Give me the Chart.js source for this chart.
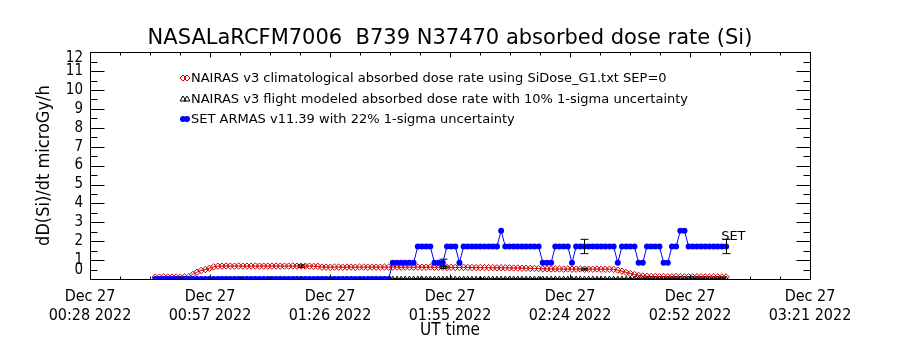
<!DOCTYPE html>
<html>
<head>
<meta charset="utf-8">
<title>NASALaRCFM7006 absorbed dose rate</title>
<script src="https://cdn.jsdelivr.net/npm/chart.js@4.4.0/dist/chart.umd.min.js"></script>
<style>
  html, body { margin: 0; padding: 0; background: #fff; }
  #wrap { width: 900px; height: 350px; }
</style>
</head>
<body>
<div id="wrap"><canvas id="doseChart" width="900" height="350"></canvas></div>
<script>
// minutes after 00:00 UT on Dec 27 2022, one sample per minute from here
const startMinute = 44;

// NAIRAS v3 climatological absorbed dose rate (microGy/h)
const nairasClim = [
  0.10, 0.10, 0.11, 0.10, 0.10, 0.11, 0.10, 0.11, 0.12,
  0.24, 0.36, 0.45, 0.50, 0.57, 0.64, 0.68,
  0.68, 0.69, 0.68, 0.68, 0.69, 0.68, 0.68, 0.68, 0.69, 0.68, 0.68, 0.68,
  0.68, 0.69, 0.68, 0.68, 0.68, 0.69, 0.68, 0.68, 0.68, 0.68, 0.67, 0.67,
  0.63, 0.63, 0.62, 0.63, 0.63, 0.62, 0.63, 0.63, 0.62, 0.63, 0.63, 0.62,
  0.63, 0.63, 0.62, 0.63, 0.63,
  0.63, 0.63, 0.62, 0.63, 0.63, 0.62, 0.63, 0.62, 0.62, 0.63, 0.62, 0.62,
  0.62, 0.61, 0.62, 0.61, 0.61, 0.62, 0.61, 0.61, 0.60, 0.61, 0.60, 0.60,
  0.60, 0.59, 0.60, 0.59, 0.59, 0.58, 0.58, 0.57, 0.57, 0.56, 0.56,
  0.55, 0.54, 0.54, 0.53, 0.53, 0.53, 0.52, 0.53, 0.52, 0.52, 0.53, 0.52,
  0.52, 0.52, 0.53, 0.52, 0.52, 0.52, 0.51,
  0.47, 0.41, 0.35, 0.29, 0.24, 0.19, 0.16, 0.14,
  0.13, 0.13, 0.12, 0.13, 0.12, 0.12, 0.13, 0.12, 0.12, 0.12, 0.11, 0.12,
  0.12, 0.11, 0.11, 0.12, 0.11, 0.11, 0.11
];

// NAIRAS v3 flight modeled absorbed dose rate (microGy/h)
const nairasFlight = [
  0.02, 0.02, 0.02, 0.02, 0.02, 0.02, 0.02, 0.02, 0.02, 0.02, 0.02, 0.02,
  0.02, 0.02, 0.02, 0.02, 0.02, 0.02, 0.02, 0.02, 0.02, 0.02, 0.02, 0.02,
  0.02, 0.02, 0.02, 0.02, 0.02, 0.02, 0.02, 0.02, 0.02, 0.02, 0.02, 0.02,
  0.02, 0.02, 0.02, 0.02, 0.02, 0.02, 0.02, 0.02, 0.02, 0.02, 0.02, 0.02,
  0.02, 0.02, 0.02, 0.02, 0.02, 0.02, 0.02, 0.02, 0.02, 0.02, 0.02, 0.02,
  0.02, 0.02, 0.02, 0.02, 0.02, 0.02, 0.02, 0.02, 0.02, 0.02, 0.02, 0.02,
  0.02, 0.02, 0.02, 0.02, 0.02, 0.02, 0.02, 0.02, 0.02, 0.02, 0.02, 0.02,
  0.02, 0.02, 0.02, 0.02, 0.02, 0.02, 0.02, 0.02, 0.02, 0.02, 0.02, 0.02,
  0.02, 0.02, 0.02, 0.02, 0.02, 0.02, 0.02, 0.02, 0.02, 0.02, 0.02, 0.02,
  0.02, 0.02, 0.02, 0.02, 0.02, 0.02, 0.02, 0.02, 0.02, 0.02, 0.02, 0.02,
  0.02, 0.02, 0.02, 0.02, 0.02, 0.02, 0.02, 0.02, 0.02, 0.02, 0.02, 0.02,
  0.02, 0.02, 0.02, 0.02, 0.02, 0.02
];

// SET ARMAS v11.39 measured dose rate (microGy/h)
const setArmas = [
  0, 0, 0, 0, 0, 0, 0, 0, 0, 0, 0, 0, 0, 0, 0, 0, 0, 0, 0, 0,
  0, 0, 0, 0, 0, 0, 0, 0, 0, 0, 0, 0, 0, 0, 0, 0, 0, 0, 0, 0,
  0, 0, 0, 0, 0, 0, 0, 0, 0, 0, 0, 0, 0, 0, 0, 0, 0,
  0.86, 0.86, 0.86, 0.86, 0.86, 0.86,
  1.72, 1.72, 1.72, 1.72,
  0.86, 0.86, 0.86,
  1.72, 1.72, 1.72,
  0.86,
  1.72, 1.72, 1.72, 1.72, 1.72, 1.72, 1.72, 1.72, 1.72,
  2.55,
  1.72, 1.72, 1.72, 1.72, 1.72, 1.72, 1.72, 1.72, 1.72,
  0.86, 0.86, 0.86,
  1.72, 1.72, 1.72, 1.72,
  0.86,
  1.72, 1.72, 1.72, 1.72, 1.72, 1.72, 1.72, 1.72, 1.72, 1.72,
  0.86,
  1.72, 1.72, 1.72, 1.72,
  0.86, 0.86,
  1.72, 1.72, 1.72, 1.72,
  0.86, 0.86,
  1.72, 1.72,
  2.55, 2.55,
  1.72, 1.72, 1.72, 1.72, 1.72, 1.72, 1.72, 1.72, 1.72, 1.72
];

const seriesLabels = [
  'NAIRAS v3 climatological absorbed dose rate using SiDose_G1.txt SEP=0',
  'NAIRAS v3 flight modeled absorbed dose rate with 10% 1-sigma uncertainty',
  'SET ARMAS v11.39 with 22% 1-sigma uncertainty'
];

// error bars: minute, relative 1-sigma
const setErrMinutes = [113, 147, 181];
const setSigma = 0.22;
const nairasErrMinutes = [79, 113, 147];
const nairasSigma = 0.10;

const xTickMinutes = [28.33, 57.13, 85.93, 114.73, 143.53, 172.33, 201.13];
const xTickLabels = [
  ['Dec 27', '00:28 2022'],
  ['Dec 27', '00:57 2022'],
  ['Dec 27', '01:26 2022'],
  ['Dec 27', '01:55 2022'],
  ['Dec 27', '02:24 2022'],
  ['Dec 27', '02:52 2022'],
  ['Dec 27', '03:21 2022']
];
const yMin = 0;
const yMax = 12;

const RED = '#cc0000';
const BLUE = '#0000ff';
const FONT = "'DejaVu Sans', sans-serif";
const COND = "'DejaVu Sans Condensed', 'DejaVu Sans', sans-serif";

function toPoints(values) {
  return values.map((v, i) => ({ x: startMinute + i, y: v }));
}

function valueAt(values, minute) {
  return values[minute - startMinute];
}

// IDL style box, inward ticks, y labels, legend, error bars
const idlFrame = {
  id: 'idlFrame',
  afterDatasetsDraw(chart) {
    const { ctx, chartArea: a, scales: { x, y } } = chart;
    ctx.save();
    ctx.strokeStyle = '#000';
    ctx.lineWidth = 1;

    function seg(x0, y0, x1, y1) {
      ctx.beginPath();
      ctx.moveTo(x0, y0);
      ctx.lineTo(x1, y1);
      ctx.stroke();
    }

    function errBar(minute, value, sigma) {
      const px = Math.round(x.getPixelForValue(minute)) + 0.5;
      const lo = y.getPixelForValue(value * (1 - sigma));
      const hi = y.getPixelForValue(value * (1 + sigma));
      seg(px, lo, px, hi);
      seg(px - 4, lo, px + 4, lo);
      seg(px - 4, hi, px + 4, hi);
    }

    nairasErrMinutes.forEach(m => errBar(m, valueAt(nairasClim, m), nairasSigma));
    setErrMinutes.forEach(m => errBar(m, valueAt(setArmas, m), setSigma));

    // frame
    const L = Math.round(a.left) + 0.5, R = Math.round(a.right) + 0.5;
    const T = Math.round(a.top) + 0.5, B = Math.round(a.bottom) + 0.5;
    ctx.strokeRect(L, T, R - L, B - T);

    // y ticks, both sides
    for (let v = yMin; v <= yMax; v += 0.5) {
      const py = Math.round(y.getPixelForValue(v)) + 0.5;
      const len = v % 1 === 0 ? 14 : 7;
      seg(L, py, L + len, py);
      seg(R, py, R - len, py);
    }

    // x ticks, both sides
    for (let i = 0; i < xTickMinutes.length; i++) {
      const px = Math.round(x.getPixelForValue(xTickMinutes[i])) + 0.5;
      seg(px, B, px, B - 5);
      seg(px, T, px, T + 5);
      if (i < xTickMinutes.length - 1) {
        const step = (xTickMinutes[i + 1] - xTickMinutes[i]) / 4;
        for (let k = 1; k < 4; k++) {
          const mx = Math.round(x.getPixelForValue(xTickMinutes[i] + k * step)) + 0.5;
          seg(mx, B, mx, B - 3);
          seg(mx, T, mx, T + 3);
        }
      }
    }

    // y tick labels (IDL nudges the end labels inside the box)
    ctx.fillStyle = '#000';
    ctx.font = '15px ' + COND;
    ctx.textAlign = 'right';
    ctx.textBaseline = 'middle';
    for (let v = yMin; v <= yMax; v++) {
      let py = y.getPixelForValue(v);
      if (v === yMax) py += 5.5;
      if (v === yMin) py -= 9;
      ctx.fillText(String(v), a.left - 7, py);
    }

    // legend
    const lx = 183, rows = [78, 99, 119];
    ctx.font = '13px ' + FONT;
    ctx.textAlign = 'left';
    rows.forEach((ry, i) => {
      for (let k = 0; k < 2; k++) {
        const sx = lx + k * 4;
        ctx.beginPath();
        if (i === 0) {
          ctx.strokeStyle = RED;
          ctx.moveTo(sx, ry - 3); ctx.lineTo(sx + 3, ry); ctx.lineTo(sx, ry + 3); ctx.lineTo(sx - 3, ry);
          ctx.closePath();
          ctx.stroke();
        } else if (i === 1) {
          ctx.strokeStyle = '#000';
          ctx.moveTo(sx, ry - 3); ctx.lineTo(sx + 3, ry + 2); ctx.lineTo(sx - 3, ry + 2);
          ctx.closePath();
          ctx.stroke();
        } else {
          ctx.fillStyle = BLUE;
          ctx.arc(sx, ry, 3, 0, Math.PI * 2);
          ctx.fill();
        }
      }
      ctx.fillStyle = '#000';
      ctx.fillText(seriesLabels[i], lx + 8, ry + 0.5);
    });

    // SET tag at the end of the measured series
    const lastMin = startMinute + setArmas.length - 1;
    ctx.font = '13px ' + FONT;
    ctx.fillText('SET', x.getPixelForValue(lastMin) - 5, y.getPixelForValue(setArmas[setArmas.length - 1]) - 10);

    ctx.restore();
  }
};

new Chart(document.getElementById('doseChart'), {
  type: 'line',
  data: {
    datasets: [
      {
        label: seriesLabels[0],
        data: toPoints(nairasClim),
        order: 2,
        borderColor: RED,
        borderWidth: 1,
        pointStyle: 'rectRot',
        pointRadius: 3.2,
        pointBorderWidth: 1,
        pointBorderColor: RED,
        pointBackgroundColor: 'rgba(0,0,0,0)'
      },
      {
        label: seriesLabels[1],
        data: toPoints(nairasFlight),
        order: 1,
        borderColor: '#000',
        borderWidth: 1,
        pointStyle: 'triangle',
        pointRadius: 2.5,
        pointBorderWidth: 1,
        pointBorderColor: '#000',
        pointBackgroundColor: 'rgba(0,0,0,0)'
      },
      {
        label: seriesLabels[2],
        data: toPoints(setArmas),
        order: 0,
        borderColor: BLUE,
        borderWidth: 1,
        pointStyle: 'circle',
        pointRadius: 3,
        pointBorderWidth: 0,
        pointBackgroundColor: BLUE
      }
    ]
  },
  options: {
    responsive: false,
    animation: false,
    devicePixelRatio: 1,
    layout: { padding: 0 },
    plugins: {
      legend: { display: false },
      tooltip: { enabled: false },
      title: {
        display: true,
        text: 'NASALaRCFM7006  B739 N37470 absorbed dose rate (Si)',
        color: '#000',
        font: { family: FONT, size: 21, weight: 'normal', lineHeight: 1.2 },
        padding: { top: 26, bottom: 1 }
      }
    },
    scales: {
      x: {
        type: 'linear',
        min: xTickMinutes[0],
        max: xTickMinutes[xTickMinutes.length - 1],
        grid: { display: false, drawTicks: false },
        border: { display: false },
        afterBuildTicks: scale => {
          scale.ticks = xTickMinutes.map(v => ({ value: v }));
        },
        afterFit: scale => { scale.height = 71; },
        ticks: {
          autoSkip: false,
          maxRotation: 0,
          padding: 8.5,
          color: '#000',
          font: { family: COND, size: 16, lineHeight: 1.19 },
          callback: (val, i) => xTickLabels[i]
        },
        title: {
          display: true,
          text: 'UT time',
          color: '#000',
          font: { family: COND, size: 17 },
          padding: { top: 0, bottom: 9 }
        }
      },
      y: {
        position: 'left',
        min: yMin,
        max: yMax,
        grid: { display: false, drawTicks: false },
        border: { display: false },
        ticks: { display: false, stepSize: 1 },
        afterFit: scale => { scale.width = 90; },
        title: {
          display: true,
          text: 'dD(Si)/dt microGy/h',
          color: '#000',
          font: { family: COND, size: 18 },
          padding: { top: 34, bottom: 0 }
        }
      },
      yRight: {
        position: 'right',
        min: yMin,
        max: yMax,
        grid: { display: false, drawTicks: false },
        border: { display: false },
        ticks: { display: false },
        afterFit: scale => { scale.width = 90; }
      }
    }
  },
  plugins: [idlFrame]
});
</script>
</body>
</html>
